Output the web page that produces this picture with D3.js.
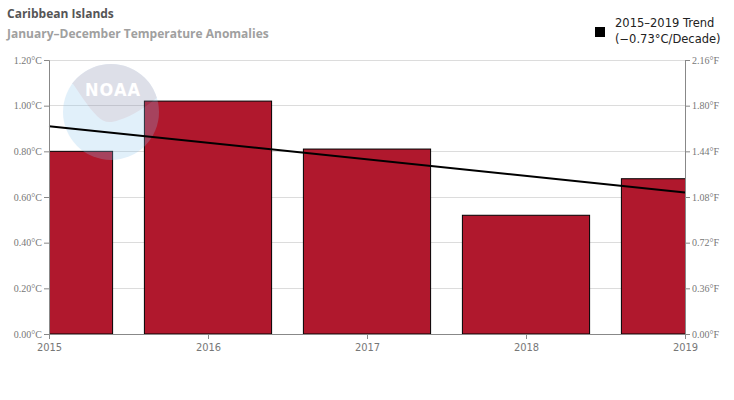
<!DOCTYPE html>
<html>
<head>
<meta charset="utf-8">
<script src="https://cdn.jsdelivr.net/npm/d3@7"></script>
<style>
  body { margin: 0; background: #fff; }
  svg { display: block; }
</style>
</head>
<body>
<div id="chart"></div>
<script>
// Caribbean Islands, Jan-Dec temperature anomalies
const years = [2015, 2016, 2017, 2018, 2019];
const anomalies = [0.80, 1.02, 0.81, 0.52, 0.68];
const trendYears = [2015, 2019];
const trendValues = [0.91, 0.62];
const cTicks = [0, 0.2, 0.4, 0.6, 0.8, 1.0, 1.2];
const fTicks = [0, 0.36, 0.72, 1.08, 1.44, 1.80, 2.16];

const W = 734, H = 400;
const margin = { top: 60, right: 49, bottom: 66, left: 49 };

const svg = d3.select("#chart").append("svg")
  .attr("width", W).attr("height", H);

const x = d3.scaleLinear()
  .domain([2015, 2019])
  .range([margin.left, W - margin.right]);

const y = d3.scaleLinear()
  .domain([0, 1.2])
  .range([H - margin.bottom, margin.top]);

const yF = d3.scaleLinear()
  .domain([0, 2.16])
  .range([H - margin.bottom, margin.top]);

const step = x(2016) - x(2015);
const barW = step * 0.8;

// titles
svg.append("text").attr("x", 7).attr("y", 18)
  .attr("font-family", "Open Sans, DejaVu Sans, sans-serif")
  .attr("font-size", 12).attr("font-weight", "bold").attr("fill", "#555")
  .text("Caribbean Islands");
svg.append("text").attr("x", 7).attr("y", 38)
  .attr("font-family", "Open Sans, DejaVu Sans, sans-serif")
  .attr("font-size", 12).attr("font-weight", "bold").attr("fill", "#a0a0a0")
  .text("January–December Temperature Anomalies");

// legend
svg.append("rect").attr("x", 595).attr("y", 27).attr("width", 10).attr("height", 10).attr("fill", "#000");
const lg = svg.append("text")
  .attr("font-family", "DejaVu Sans, sans-serif")
  .attr("font-size", 11.5).attr("fill", "#222");
lg.append("tspan").attr("x", 615).attr("y", 27).text("2015–2019 Trend");
lg.append("tspan").attr("x", 615).attr("y", 43).text("(−0.73°C/Decade)");

// grid
svg.append("g")
  .selectAll("line").data(cTicks.slice(1)).join("line")
  .attr("x1", margin.left).attr("x2", W - margin.right)
  .attr("y1", d => y(d)).attr("y2", d => y(d))
  .attr("stroke", "#dcdcdc").attr("stroke-width", 1)
  .attr("shape-rendering", "crispEdges");

// clip
svg.append("clipPath").attr("id", "plot")
  .append("rect")
  .attr("x", margin.left).attr("y", margin.top)
  .attr("width", W - margin.left - margin.right)
  .attr("height", H - margin.top - margin.bottom);

// bars
svg.append("g").attr("clip-path", "url(#plot)")
  .selectAll("rect").data(years).join("rect")
  .attr("x", (d) => x(d) - barW / 2)
  .attr("y", (d, i) => y(anomalies[i]))
  .attr("width", barW)
  .attr("height", (d, i) => y(0) - y(anomalies[i]))
  .attr("fill", "#b0182d")
  .attr("stroke", "#000").attr("stroke-width", 1);

// noaa watermark (faint)
const logo = svg.append("g").attr("opacity", 0.25);
const cx = 111, cy = 112, r = 48;
logo.append("clipPath").attr("id", "logoClip")
  .append("circle").attr("cx", cx).attr("cy", cy).attr("r", r);
logo.append("circle").attr("cx", cx).attr("cy", cy).attr("r", r).attr("fill", "#8cc5ee");
logo.append("path").attr("clip-path", "url(#logoClip)")
  .attr("d", `M${cx - r},${cy - r} L${cx + r},${cy - r} L${cx + r},${cy - 16}
    C${cx + 36},${cy - 6} ${cx + 22},${cy + 4} ${cx + 8},${cy + 8}
    C${cx - 2},${cy + 12} ${cx - 8},${cy + 10} ${cx - 14},${cy + 4}
    C${cx - 24},${cy - 6} ${cx - 32},${cy - 20} ${cx - 38},${cy - 28}
    L${cx - r},${cy - 28} Z`)
  .attr("fill", "#7d82a6");
logo.append("text").attr("x", cx + 2).attr("y", cy - 16)
  .attr("text-anchor", "middle")
  .attr("font-family", "DejaVu Sans Condensed, DejaVu Sans, sans-serif").attr("font-weight", "bold")
  .attr("font-size", 18).attr("letter-spacing", 1).attr("fill", "#fff")
  .text("NOAA");

// trend
svg.append("line")
  .attr("x1", x(trendYears[0])).attr("y1", y(trendValues[0]))
  .attr("x2", x(trendYears[1])).attr("y2", y(trendValues[1]))
  .attr("stroke", "#000").attr("stroke-width", 2);

// axes
const tickFont = g => g.selectAll("text")
  .attr("font-family", "Liberation Serif, serif")
  .attr("font-size", 10).attr("fill", "#777");

svg.append("g")
  .attr("transform", `translate(${margin.left},0)`)
  .call(d3.axisLeft(y).tickValues(cTicks).tickSize(5).tickPadding(2)
    .tickFormat(d => d3.format(".2f")(d) + "°C"))
  .call(g => g.selectAll("line,path").attr("stroke", "#888"))
  .call(tickFont);

svg.append("g")
  .attr("transform", `translate(${W - margin.right},0)`)
  .call(d3.axisRight(yF).tickValues(fTicks).tickSize(5).tickPadding(2)
    .tickFormat(d => d3.format(".2f")(d) + "°F"))
  .call(g => g.selectAll("line,path").attr("stroke", "#888"))
  .call(tickFont);

svg.append("g")
  .attr("transform", `translate(0,${y(0)})`)
  .call(d3.axisBottom(x).tickValues(years).tickSize(5).tickPadding(4)
    .tickFormat(d3.format("d")))
  .call(g => g.selectAll("line,path").attr("stroke", "#888"))
  .call(g => g.selectAll("text")
    .attr("font-family", "DejaVu Sans Condensed, DejaVu Sans, sans-serif")
    .attr("font-size", 11).attr("fill", "#777"));
</script>
</body>
</html>
